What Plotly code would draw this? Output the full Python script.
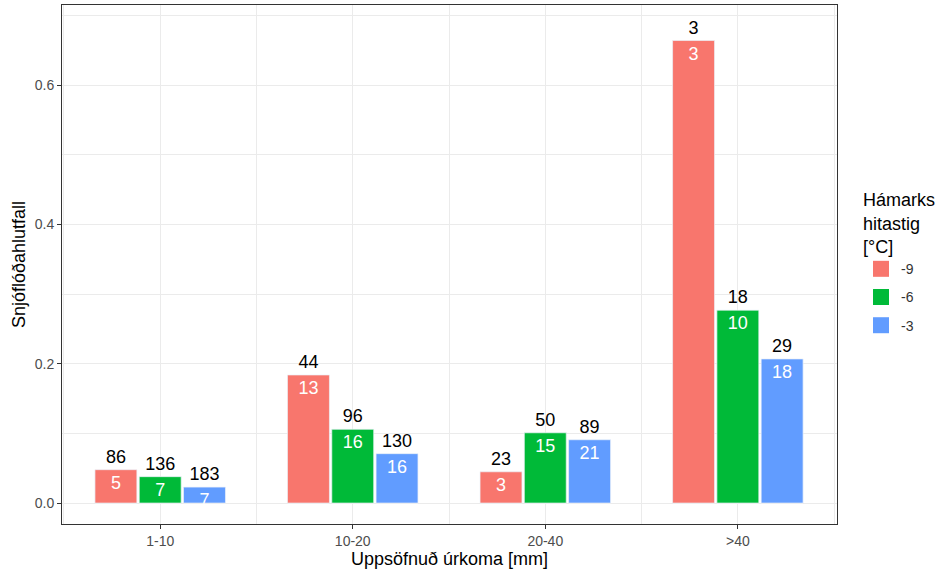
import plotly.graph_objects as go

# ---- data ----
categories = ["1-10", "10-20", "20-40", ">40"]
series_names = ["-9", "-6", "-3"]
ratio_m9 = [0.048, 0.184, 0.045, 0.664]
ratio_m6 = [0.038, 0.106, 0.101, 0.277]
ratio_m3 = [0.023, 0.071, 0.091, 0.207]
total_m9 = [86, 44, 23, 3]
total_m6 = [136, 96, 50, 18]
total_m3 = [183, 130, 89, 29]
aval_m9 = [5, 13, 3, 3]
aval_m6 = [7, 16, 15, 10]
aval_m3 = [7, 16, 21, 18]

colors = ["#F8766D", "#00BA38", "#619CFF"]
ratios = [ratio_m9, ratio_m6, ratio_m3]
totals = [total_m9, total_m6, total_m3]
avals = [aval_m9, aval_m6, aval_m3]

FONT = "Liberation Sans, Arial, sans-serif"
xpos = list(range(len(categories)))
group_w = 0.69
slot = group_w / 3
bar_w = 0.218

fig = go.Figure()
for i, name in enumerate(series_names):
    off = -group_w / 2 + i * slot + (slot - bar_w) / 2
    fig.add_trace(go.Bar(
        x=xpos, y=ratios[i], name=name, showlegend=False,
        width=bar_w, offset=off,
        marker=dict(color=colors[i], line=dict(color="rgba(255,255,255,0.6)", width=0.6)),
        text=[str(v) for v in avals[i]],
        textposition="inside", insidetextanchor="end", textangle=0,
        constraintext="none",
        textfont=dict(color="white", size=18, family=FONT),
        hoverinfo="skip",
    ))
    fig.add_trace(go.Bar(
        x=xpos, y=ratios[i], name=name, showlegend=False,
        width=bar_w, offset=off,
        marker=dict(color="rgba(0,0,0,0)"),
        text=[str(v) for v in totals[i]],
        textposition="outside", textangle=0, constraintext="none", cliponaxis=False,
        textfont=dict(color="black", size=18, family=FONT),
        hoverinfo="skip",
    ))
    # legend key
    fig.add_trace(go.Scatter(
        x=[None], y=[None], mode="markers", name=name,
        legendgroup=name,
        marker=dict(symbol="square", size=28, color=colors[i]),
        hoverinfo="skip",
    ))

grid = "#ebebeb"
fig.update_layout(
    barmode="overlay",
    width=938, height=573,
    margin=dict(l=62, r=101, t=5, b=49, autoexpand=False),
    paper_bgcolor="white", plot_bgcolor="white",
    font=dict(family=FONT, color="black"),
    showlegend=True,
    legend=dict(
        title=dict(text="Hámarks<br>hitastig<br>[°C]", font=dict(size=18, color="black")),
        font=dict(size=14, color="#333333"),
        x=1.031, xanchor="left", y=0.657, yanchor="top",
        tracegroupgap=7, itemsizing="trace",
    ),
    xaxis=dict(
        range=[-0.51, 3.515], tickmode="array", tickvals=xpos, ticktext=categories,
        showgrid=True, gridcolor=grid, gridwidth=1,
        minor=dict(dtick=0.5, tick0=0.5, showgrid=True, gridcolor=grid, gridwidth=1),
        zeroline=False,
        showline=True, mirror=True, linecolor="#333333", linewidth=1,
        ticks="outside", ticklen=4, tickcolor="#333333",
        tickfont=dict(size=14, color="#4d4d4d"),
        title=dict(text="Uppsöfnuð úrkoma [mm]", font=dict(size=18, color="black"), standoff=2),
    ),
    yaxis=dict(
        range=[-0.03, 0.715], tickvals=[0, 0.2, 0.4, 0.6], tickformat=".1f",
        showgrid=True, gridcolor=grid, gridwidth=1,
        minor=dict(tickvals=[0.1, 0.3, 0.5, 0.7], showgrid=True, gridcolor=grid, gridwidth=1),
        zeroline=False,
        showline=True, mirror=True, linecolor="#333333", linewidth=1,
        ticks="outside", ticklen=4, tickcolor="#333333",
        tickfont=dict(size=14, color="#4d4d4d"),
        title=dict(text="Snjóflóðahlutfall", font=dict(size=18, color="black"), standoff=4),
    ),
)

fig.write_html("out.html")
